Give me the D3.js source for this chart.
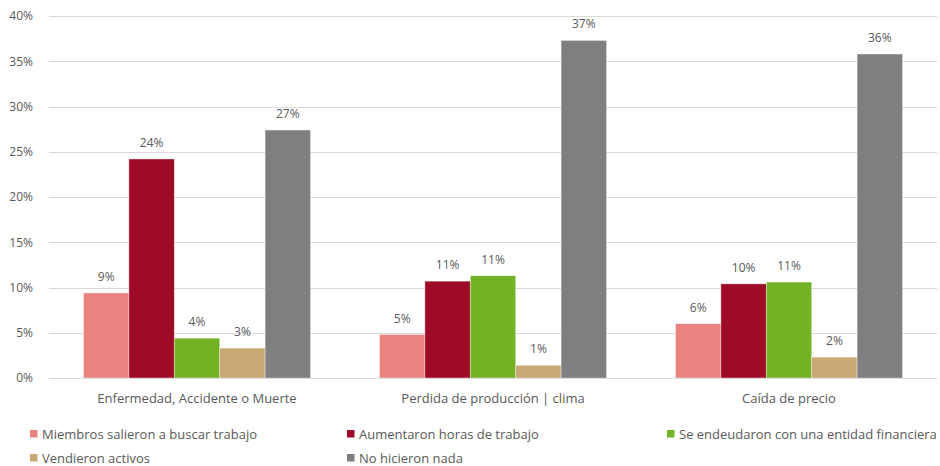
<!DOCTYPE html>
<html><head><meta charset="utf-8">
<script src="https://cdn.jsdelivr.net/npm/d3@7/dist/d3.min.js"></script>
<style>body{margin:0;background:#fff;} text{font-family:"Open Sans",sans-serif;}</style>
</head><body>
<svg id="c" width="940" height="466"></svg>
<script>
const categories = ["Enfermedad, Accidente o Muerte", "Perdida de producción | clima", "Caída de precio"];
const seriesNames = ["Miembros salieron a buscar trabajo", "Aumentaron horas de trabajo", "Se endeudaron con una entidad financiera", "Vendieron activos", "No hicieron nada"];
const colors = ["#E8837F", "#9E0B26", "#74B225", "#C8A873", "#7F7F7F"];
const miembros = [9.4, 4.8, 6.0];
const aumentaron = [24.2, 10.7, 10.4];
const endeudaron = [4.4, 11.3, 10.6];
const vendieron = [3.3, 1.4, 2.3];
const nada = [27.4, 37.3, 35.8];
const yTicks = [0, 5, 10, 15, 20, 25, 30, 35, 40];

(function () {
const series = [miembros, aumentaron, endeudaron, vendieron, nada];
const svg = d3.select("#c");
const mLeft = 49, mRight = 937, mTop = 16, mBottom = 378;
const y = d3.scaleLinear().domain([0, 40]).range([mBottom, mTop]);
const x0 = d3.scaleBand().domain(categories).range([mLeft, mRight]).paddingInner(0.233).paddingOuter(0.1165);
const x1 = d3.scaleBand().domain(d3.range(series.length)).range([0, x0.bandwidth()]);
const txt = "#595959";

// gridlines
svg.append("g").selectAll("line").data(yTicks).join("line")
  .attr("x1", mLeft).attr("x2", mRight)
  .attr("y1", d => Math.round(y(d)) + 0.5).attr("y2", d => Math.round(y(d)) + 0.5)
  .attr("stroke", "#d9d9d9").attr("stroke-width", 1);

// y axis
const yAxis = svg.append("g").attr("transform", `translate(${mLeft - 13},0)`)
  .call(d3.axisLeft(y).tickValues(yTicks).tickFormat(d => d + "%").tickSize(0));
yAxis.select(".domain").remove();
yAxis.selectAll("text").attr("fill", txt).style("font-size", "12px").style("font-family", "Open Sans");

// bars
const groups = svg.append("g").selectAll("g").data(categories).join("g")
  .attr("transform", d => `translate(${x0(d)},0)`);
groups.each(function(cat, ci) {
  const g = d3.select(this);
  const vals = series.map((s, si) => ({si, v: s[ci]}));
  g.selectAll("rect").data(vals).join("rect")
    .attr("x", d => x1(d.si)).attr("width", x1.bandwidth())
    .attr("y", d => y(d.v)).attr("height", d => y(0) - y(d.v))
    .attr("fill", d => colors[d.si])
    .attr("stroke", "#ffffff").attr("stroke-opacity", 0.5).attr("stroke-width", 0.7);
  g.selectAll("text").data(vals).join("text")
    .attr("x", d => x1(d.si) + x1.bandwidth() / 2)
    .attr("y", d => y(d.v) - 12)
    .attr("text-anchor", "middle").attr("fill", txt).style("font-size", "12px")
    .text(d => Math.round(d.v) + "%");
});

// x axis labels
const xAxis = svg.append("g").attr("transform", `translate(0,${mBottom})`)
  .call(d3.axisBottom(x0).tickSize(0).tickPadding(16));
xAxis.select(".domain").remove();
xAxis.selectAll("text").attr("fill", txt).style("font-size", "13px").style("font-family", "Open Sans");

// legend
const legPos = [[30, 434], [347, 434], [667, 434], [30, 458], [347, 458]];
const leg = svg.append("g").selectAll("g").data(seriesNames).join("g")
  .attr("transform", (d, i) => `translate(${legPos[i][0]},${legPos[i][1]})`);
leg.append("rect").attr("x", 0).attr("y", -4).attr("width", 7.5).attr("height", 7.5)
  .attr("fill", (d, i) => colors[i]);
leg.append("text").attr("x", 12).attr("y", 0).attr("dy", "0.35em")
  .attr("fill", txt).style("font-size", "13px").text(d => d);
})();
</script>
</body></html>
